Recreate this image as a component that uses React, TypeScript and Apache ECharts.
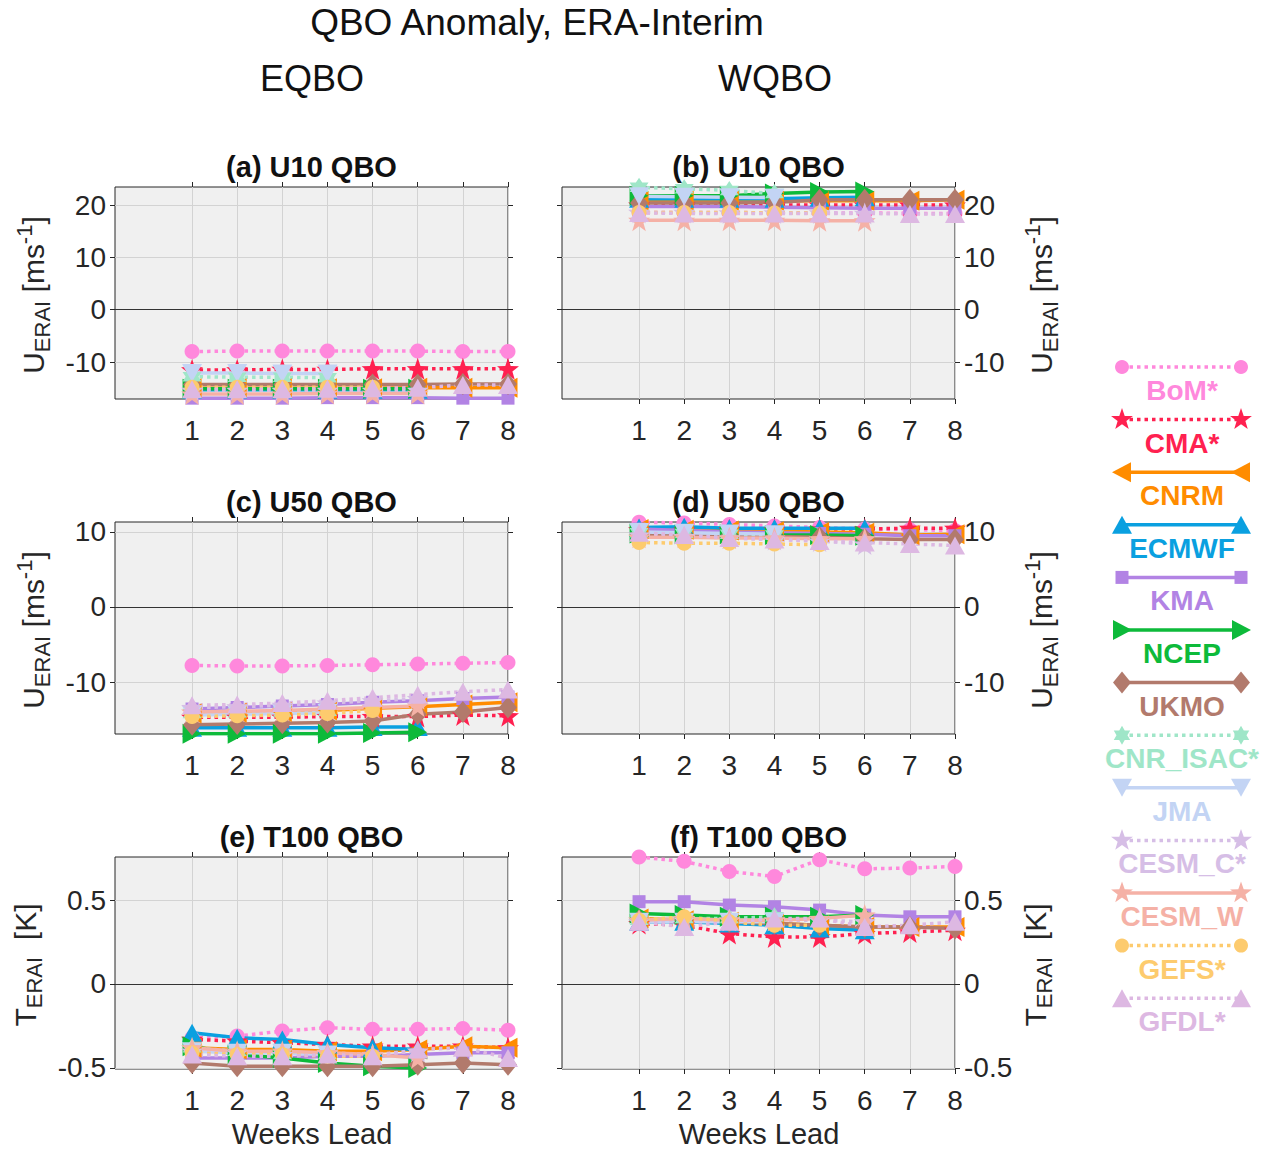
import React, { useEffect, useRef } from 'react';
import * as echarts from 'echarts';

// ---------------- DATA ----------------
const xTicks = [1, 2, 3, 4, 5, 6, 7, 8];
const models = ['BoM*', 'CMA*', 'CNRM', 'ECMWF', 'KMA', 'NCEP', 'UKMO', 'CNR_ISAC*', 'JMA', 'CESM_C*', 'CESM_W', 'GEFS*', 'GFDL*'];

const yTicksU10 = [-10, 0, 10, 20];
const yTicksU50 = [-10, 0, 10];
const yTicksT100 = [-0.5, 0, 0.5];
const limU10 = [-17.06, 23.45];
const limU50 = [-16.93, 11.33];
const limT100 = [-0.506, 0.756];
const limX = [-0.707, 8];

// order: BoM, CMA, CNRM, ECMWF, KMA, NCEP, UKMO, CNR_ISAC, JMA, CESM_C, CESM_W, GEFS, GFDL
const u10E: number[][] = [
  [-8.0, -7.9, -7.9, -7.9, -7.9, -7.9, -8.0, -8.0],
  [-11.5, -11.5, -11.4, -11.4, -11.3, -11.3, -11.3, -11.3],
  [-15.0, -15.0, -15.0, -15.0, -15.0, -14.9, -14.9, -14.9],
  [-15.3, -15.3, -15.3, -15.3, -15.3, -15.3],
  [-16.9, -16.9, -16.9, -16.8, -16.8, -16.8, -16.9, -16.9],
  [-15.1, -15.1, -15.1, -15.1, -15.1, -15.1],
  [-14.3, -14.3, -14.3, -14.3, -14.3, -14.3, -14.2, -14.2],
  [-12.8, -12.9, -12.9, -13.0],
  [-12.1, -12.1, -12.2, -12.2],
  [-15.4, -15.4, -15.4, -15.4, -15.4, -15.4],
  [-16.1, -16.1, -16.1, -16.0, -16.0, -16.0],
  [-14.8, -14.8, -14.8, -14.8, -14.8],
  [-15.2, -15.2, -15.2, -15.1, -15.0, -14.9, -14.4, -14.4],
];
const u10W: number[][] = [
  [18.6, 18.6, 18.6, 18.5, 18.5, 18.5, 18.4, 18.4],
  [20.0, 20.0, 20.0, 20.0, 20.0, 20.0, 20.0, 20.0],
  [20.8, 20.8, 20.8, 20.8, 20.8, 20.8, 20.8, 21.0],
  [21.2, 21.2, 21.2, 21.2, 21.4, 21.5],
  [19.7, 19.7, 19.7, 19.6, 19.5, 19.4, 19.4, 19.4],
  [21.8, 21.8, 21.8, 22.2, 22.5, 22.6],
  [20.4, 20.4, 20.4, 20.5, 21.0, 21.0, 21.0, 21.0],
  [23.4, 23.1, 22.8, 22.2],
  [21.7, 21.6, 21.5, 21.4],
  [18.6, 18.6, 18.5, 18.5, 18.5, 18.4],
  [17.1, 17.1, 17.1, 17.1, 17.0, 17.0],
  [18.6, 18.6, 18.6, 18.5, 18.5],
  [18.5, 18.4, 18.4, 18.4, 18.4, 18.4, 18.3, 18.3],
];
const u50E: number[][] = [
  [-7.8, -7.85, -7.85, -7.8, -7.7, -7.6, -7.5, -7.4],
  [-14.7, -14.7, -14.7, -14.6, -14.6, -14.6, -14.4, -14.5],
  [-14.2, -14.1, -14.0, -13.8, -13.5, -13.3, -13.0, -12.7],
  [-16.1, -16.1, -16.1, -16.1, -16.0, -16.0],
  [-13.6, -13.4, -13.2, -13.0, -12.7, -12.5, -12.2, -12.0],
  [-16.9, -16.9, -16.9, -16.9, -16.8, -16.7],
  [-15.7, -15.6, -15.5, -15.4, -15.2, -14.3, -14.0, -13.4],
  [-14.2, -14.1, -14.0, -13.9],
  [-14.4, -14.3, -14.2, -14.1],
  [-13.4, -13.3, -13.1, -12.8, -12.5, -12.2],
  [-14.0, -13.9, -13.8, -13.6, -13.4, -13.2],
  [-14.6, -14.5, -14.4, -14.2, -13.8],
  [-13.1, -13.0, -12.8, -12.5, -12.1, -11.7, -11.3, -11.0],
];
const u50W: number[][] = [
  [11.3, 11.2, 11.0, 10.8, 10.6, 10.4, 10.3, 10.2],
  [10.3, 10.3, 10.3, 10.3, 10.4, 10.4, 10.5, 10.5],
  [10.4, 10.3, 10.2, 10.1, 10.0, 9.9, 9.6, 9.7],
  [10.6, 10.7, 10.5, 10.5, 10.5, 10.5],
  [10.4, 10.2, 10.0, 9.9, 9.8, 9.7, 9.5, 9.5],
  [9.8, 9.7, 9.7, 9.6, 9.6, 9.5],
  [9.7, 9.6, 9.5, 9.4, 9.3, 9.1, 9.0, 9.0],
  [9.9, 9.8, 9.7, 9.6],
  [10.0, 9.9, 9.8, 9.7],
  [9.6, 9.4, 9.2, 9.0, 8.8, 8.4],
  [9.3, 9.3, 9.2, 9.2, 9.1, 9.1],
  [8.6, 8.5, 8.5, 8.4, 8.3],
  [9.9, 9.6, 9.2, 9.0, 8.8, 8.6, 8.4, 8.2],
];
const t100E: number[][] = [
  [-0.32, -0.31, -0.28, -0.26, -0.27, -0.27, -0.265, -0.275],
  [-0.33, -0.34, -0.35, -0.36, -0.37, -0.37, -0.37, -0.38],
  [-0.38, -0.39, -0.39, -0.40, -0.40, -0.39, -0.37, -0.38],
  [-0.29, -0.32, -0.33, -0.36, -0.38, -0.39],
  [-0.44, -0.44, -0.44, -0.43, -0.43, -0.42, -0.41, -0.41],
  [-0.37, -0.42, -0.44, -0.47, -0.49, -0.50],
  [-0.47, -0.49, -0.49, -0.49, -0.49, -0.48, -0.47, -0.48],
  [-0.38, -0.40, -0.42, -0.42],
  [-0.40, -0.41, -0.41, -0.42],
  [-0.40, -0.41, -0.42, -0.41, -0.42, -0.40],
  [-0.38, -0.40, -0.40, -0.41, -0.42, -0.44],
  [-0.41, -0.42, -0.42, -0.43, -0.43],
  [-0.42, -0.43, -0.43, -0.42, -0.43, -0.39, -0.38, -0.44],
];
const t100W: number[][] = [
  [0.756, 0.73, 0.67, 0.64, 0.74, 0.686, 0.69, 0.70],
  [0.36, 0.35, 0.30, 0.28, 0.28, 0.30, 0.31, 0.32],
  [0.39, 0.38, 0.37, 0.36, 0.35, 0.34, 0.34, 0.34],
  [0.37, 0.37, 0.36, 0.35, 0.33, 0.32],
  [0.49, 0.49, 0.47, 0.46, 0.44, 0.41, 0.40, 0.40],
  [0.42, 0.41, 0.40, 0.40, 0.40, 0.41],
  [0.38, 0.38, 0.37, 0.36, 0.35, 0.34, 0.34, 0.33],
  [0.38, 0.39, 0.39, 0.40],
  [0.37, 0.37, 0.37, 0.37],
  [0.37, 0.38, 0.38, 0.38, 0.38, 0.37],
  [0.38, 0.39, 0.38, 0.38, 0.39, 0.41],
  [0.38, 0.40, 0.37, 0.35, 0.35],
  [0.37, 0.34, 0.37, 0.39, 0.39, 0.34, 0.35, 0.37],
];

// ---------------- STYLES ----------------
const FONT = "'Liberation Sans', Arial, Helvetica, sans-serif";
const TXT = '#262626';
const STAR = 'path://M0,-10 L2.35,-3.24 L9.51,-3.09 L3.8,1.24 L5.88,8.09 L0,4 L-5.88,8.09 L-3.8,1.24 L-9.51,-3.09 L-2.35,-3.24 Z';
const HEX = 'path://M0,-10 L2.887,-5 L8.66,-5 L5.77,0 L8.66,5 L2.887,5 L0,10 L-2.887,5 L-8.66,5 L-5.77,0 L-8.66,-5 L-2.887,-5 Z';

type Sty = { color: string; dotted: boolean; kind: string };
const styles: Sty[] = [
  { color: '#ff88dc', dotted: true, kind: 'circle' },
  { color: '#ff2150', dotted: true, kind: 'star' },
  { color: '#ff8c00', dotted: false, kind: 'triLeft' },
  { color: '#0aa0e0', dotted: false, kind: 'triUp' },
  { color: '#b283e4', dotted: false, kind: 'square' },
  { color: '#0dba3a', dotted: false, kind: 'triRight' },
  { color: '#b27a6c', dotted: false, kind: 'diamond' },
  { color: '#9fe6c8', dotted: true, kind: 'hex' },
  { color: '#c3d4f4', dotted: false, kind: 'triDown' },
  { color: '#d6bee6', dotted: true, kind: 'star' },
  { color: '#f5b1a6', dotted: false, kind: 'star' },
  { color: '#fdcb6e', dotted: true, kind: 'circle' },
  { color: '#ddb8e2', dotted: true, kind: 'triUp' },
];

function symbolFor(kind: string): any {
  switch (kind) {
    case 'circle': return { symbol: 'circle', symbolSize: 15, symbolRotate: 0 };
    case 'star': return { symbol: STAR, symbolSize: 22, symbolRotate: 0 };
    case 'triLeft': return { symbol: 'triangle', symbolSize: [20, 19], symbolRotate: 90 };
    case 'triRight': return { symbol: 'triangle', symbolSize: [20, 19], symbolRotate: -90 };
    case 'triUp': return { symbol: 'triangle', symbolSize: [20, 18], symbolRotate: 0 };
    case 'triDown': return { symbol: 'triangle', symbolSize: [20, 18], symbolRotate: 180 };
    case 'square': return { symbol: 'rect', symbolSize: 13, symbolRotate: 0 };
    case 'diamond': return { symbol: 'diamond', symbolSize: [18, 22], symbolRotate: 0 };
    case 'hex': return { symbol: HEX, symbolSize: 19, symbolRotate: 0 };
  }
  return { symbol: 'circle', symbolSize: 12 };
}

function legendMarker(kind: string, cx: number, cy: number, color: string): any {
  const st = { fill: color };
  const poly = (pts: number[][]) => ({ type: 'polygon', shape: { points: pts }, style: st, silent: true });
  switch (kind) {
    case 'circle': return { type: 'circle', shape: { cx, cy, r: 7 }, style: st, silent: true };
    case 'square': return { type: 'rect', shape: { x: cx - 6.5, y: cy - 6.5, width: 13, height: 13 }, style: st, silent: true };
    case 'triUp': return poly([[cx, cy - 9], [cx + 10, cy + 9], [cx - 10, cy + 9]]);
    case 'triDown': return poly([[cx, cy + 9], [cx + 10, cy - 9], [cx - 10, cy - 9]]);
    case 'triLeft': return poly([[cx - 10, cy], [cx + 9, cy - 10], [cx + 9, cy + 10]]);
    case 'triRight': return poly([[cx + 10, cy], [cx - 9, cy - 10], [cx - 9, cy + 10]]);
    case 'diamond': return poly([[cx, cy - 11], [cx + 9, cy], [cx, cy + 11], [cx - 9, cy]]);
    case 'star': {
      const pts: number[][] = [];
      for (let k = 0; k < 10; k++) {
        const r = k % 2 === 0 ? 11.5 : 4.6;
        const a = -Math.PI / 2 + (k * Math.PI) / 5;
        pts.push([cx + r * Math.cos(a), cy + r * Math.sin(a)]);
      }
      return poly(pts);
    }
    case 'hex': {
      const pts: number[][] = [];
      for (let k = 0; k < 12; k++) {
        const r = k % 2 === 0 ? 9.5 : 5.5;
        const a = -Math.PI / 2 + (k * Math.PI) / 6;
        pts.push([cx + r * Math.cos(a), cy + r * Math.sin(a)]);
      }
      return poly(pts);
    }
  }
  return null;
}

// ---------------- LAYOUT ----------------
const colLeft = [115, 562];
const rowTop = [187, 522, 857];
const PW = 393;
const PH = 212;

const panels = [
  { data: u10E, lim: limU10, ticks: yTicksU10, col: 0, row: 0, title: '(a) U10 QBO', q: 'U' },
  { data: u10W, lim: limU10, ticks: yTicksU10, col: 1, row: 0, title: '(b) U10 QBO', q: 'U' },
  { data: u50E, lim: limU50, ticks: yTicksU50, col: 0, row: 1, title: '(c) U50 QBO', q: 'U' },
  { data: u50W, lim: limU50, ticks: yTicksU50, col: 1, row: 1, title: '(d) U50 QBO', q: 'U' },
  { data: t100E, lim: limT100, ticks: yTicksT100, col: 0, row: 2, title: '(e) T100 QBO', q: 'T' },
  { data: t100W, lim: limT100, ticks: yTicksT100, col: 1, row: 2, title: '(f) T100 QBO', q: 'T' },
];

function buildOption(): any {
  const grid: any[] = [];
  const xAxis: any[] = [];
  const yAxis: any[] = [];
  const series: any[] = [];
  const graphic: any[] = [];
  const tickStyle = { color: TXT, width: 1 };
  const labelBase = { color: TXT, fontSize: 28, fontFamily: FONT };
  const noLine = { show: false, onZero: false };

  panels.forEach((p, g) => {
    const left = colLeft[p.col];
    const top = rowTop[p.row];
    grid.push({
      left, top, width: PW, height: PH, show: true,
      backgroundColor: '#f0f0f0', borderColor: TXT, borderWidth: 1,
      containLabel: false, outerBoundsMode: 'none',
    });
    xAxis.push({
      gridIndex: g, type: 'value', position: 'bottom', min: limX[0], max: limX[1],
      axisLine: noLine,
      axisTick: { show: true, inside: false, length: 5, lineStyle: tickStyle, customValues: xTicks },
      axisLabel: { ...labelBase, show: true, customValues: xTicks, margin: 17, formatter: (v: number) => String(v) },
      splitLine: { show: true, lineStyle: { color: '#d3d3d3', width: 1 } },
    });
    xAxis.push({
      gridIndex: g, type: 'value', position: 'top', min: limX[0], max: limX[1],
      axisLine: noLine,
      axisTick: { show: true, inside: false, length: 5, lineStyle: tickStyle, customValues: xTicks },
      axisLabel: { show: false },
      splitLine: { show: false },
    });
    const fmt = (v: number) => String(Math.round(v * 100) / 100);
    yAxis.push({
      gridIndex: g, type: 'value', position: 'left', min: p.lim[0], max: p.lim[1],
      axisLine: noLine,
      axisTick: { show: true, inside: false, length: 5, lineStyle: tickStyle, customValues: p.ticks },
      axisLabel: { ...labelBase, show: p.col === 0, customValues: p.ticks, margin: 9, formatter: fmt },
      splitLine: { show: true, lineStyle: { color: '#d3d3d3', width: 1 } },
    });
    yAxis.push({
      gridIndex: g, type: 'value', position: 'right', min: p.lim[0], max: p.lim[1],
      axisLine: noLine,
      axisTick: { show: true, inside: false, length: 5, lineStyle: tickStyle, customValues: p.ticks },
      axisLabel: { ...labelBase, show: p.col === 1, customValues: p.ticks, margin: 9, formatter: fmt },
      splitLine: { show: false },
    });

    p.data.forEach((vals, m) => {
      const s = styles[m];
      const sym = symbolFor(s.kind);
      const ser: any = {
        type: 'line',
        name: models[m],
        xAxisIndex: 2 * g,
        yAxisIndex: 2 * g,
        data: vals.map((v, i) => [xTicks[i], v]),
        ...sym,
        showSymbol: true,
        silent: true,
        emphasis: { disabled: true },
        itemStyle: { color: s.color, borderWidth: 0 },
        lineStyle: { color: s.color, width: 3.5, type: s.dotted ? [3.5, 4] : 'solid', cap: 'butt' },
        z: 3,
      };
      if (m === 0) {
        ser.markLine = {
          silent: true,
          symbol: ['none', 'none'],
          label: { show: false },
          lineStyle: { color: '#333333', width: 1.2, type: 'solid' },
          emphasis: { disabled: true },
          data: [{ yAxis: 0 }],
        };
      }
      series.push(ser);
    });

    // panel title
    graphic.push({
      type: 'text', x: left + PW / 2, y: top - 20, silent: true,
      style: { text: p.title, fontSize: 29, fontWeight: 'bold', fontFamily: FONT, fill: '#111', align: 'center', verticalAlign: 'middle', textAlign: 'center', textVerticalAlign: 'middle' },
    });

    // y label
    const isU = p.q === 'U';
    const lx = p.col === 0 ? (isU ? 33 : 25) : (isU ? 1041 : 1035);
    const ly = top + PH / 2 + 2;
    graphic.push({
      type: 'text', x: lx, y: ly, rotation: Math.PI / 2, silent: true,
      style: {
        text: isU ? '{m|U}{s|ERAI}{m| [ms}{p|-1}{m|]}' : '{m|T}{s|ERAI}{m|  [K]}',
        fill: TXT, fontFamily: FONT, fontSize: 30,
        align: 'center', verticalAlign: 'middle', textAlign: 'center', textVerticalAlign: 'middle',
        rich: {
          m: { fontSize: 30, fontFamily: FONT, fill: TXT, lineHeight: 40, verticalAlign: 'middle' },
          s: { fontSize: 22, fontFamily: FONT, fill: TXT, lineHeight: 22, verticalAlign: 'bottom' },
          p: { fontSize: 22, fontFamily: FONT, fill: TXT, lineHeight: 22, verticalAlign: 'top' },
        },
      },
    });
  });

  // main titles
  const tstyle = (text: string, size: number) => ({ text, fontSize: size, fontFamily: FONT, fill: '#111', align: 'center', verticalAlign: 'middle', textAlign: 'center', textVerticalAlign: 'middle' });
  graphic.push({ type: 'text', x: 537, y: 22, silent: true, style: tstyle('QBO Anomaly, ERA-Interim', 37) });
  graphic.push({ type: 'text', x: 312, y: 78, silent: true, style: tstyle('EQBO', 36) });
  graphic.push({ type: 'text', x: 775, y: 78, silent: true, style: tstyle('WQBO', 36) });
  graphic.push({ type: 'text', x: 312, y: 1134, silent: true, style: { ...tstyle('Weeks Lead', 29), fill: TXT } });
  graphic.push({ type: 'text', x: 759, y: 1134, silent: true, style: { ...tstyle('Weeks Lead', 29), fill: TXT } });

  // legend
  models.forEach((name, i) => {
    const s = styles[i];
    const y = 367 + 52.6 * i;
    const x1 = 1122;
    const x2 = 1241;
    graphic.push({
      type: 'line', silent: true,
      shape: { x1, y1: y, x2, y2: y },
      style: { stroke: s.color, lineWidth: 3.5, lineDash: s.dotted ? [3.5, 4] : null },
    });
    graphic.push(legendMarker(s.kind, x1, y, s.color));
    graphic.push(legendMarker(s.kind, x2, y, s.color));
    graphic.push({
      type: 'text', x: 1182, y: y + 23.5, silent: true,
      style: { text: name, fontSize: 28, fontWeight: 'bold', fontFamily: FONT, fill: s.color, align: 'center', verticalAlign: 'middle', textAlign: 'center', textVerticalAlign: 'middle' },
    });
  });

  return { animation: false, backgroundColor: '#ffffff', grid, xAxis, yAxis, series, graphic };
}

export default function App() {
  const ref = useRef<HTMLDivElement>(null);
  useEffect(() => {
    document.body.style.margin = '0';
    const chart = echarts.init(ref.current as HTMLDivElement, null, { renderer: 'svg' });
    chart.setOption(buildOption());
    return () => chart.dispose();
  }, []);
  return <div ref={ref} style={{ width: 1266, height: 1150 }} />;
}
